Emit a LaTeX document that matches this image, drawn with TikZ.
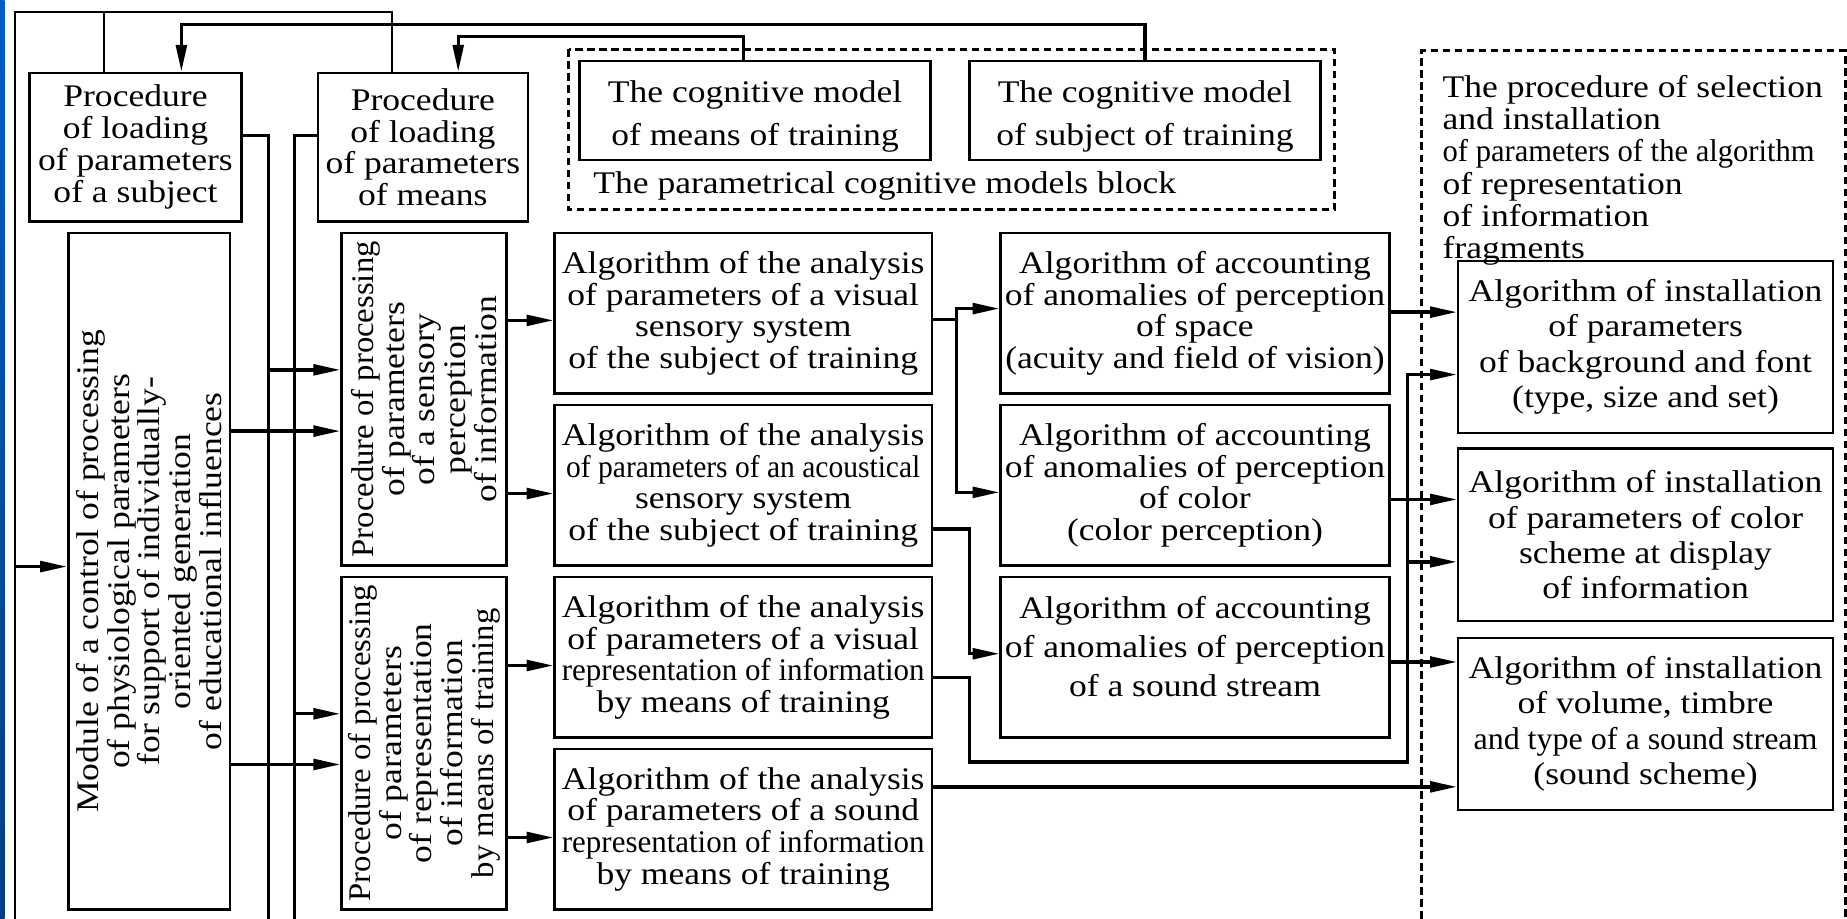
\documentclass[tikz,border=0pt]{standalone}
\usepackage{fontspec}
\setmainfont{Liberation Serif}[FakeStretch=1.13]
\usetikzlibrary{shapes.geometric, arrows, positioning, arrows.meta, calc}
\definecolor{slideblue}{rgb}{0.0, 0.36, 0.78}
\definecolor{slidedark}{rgb}{0.0, 0.24, 0.52}
\newcommand{\narrowline}[2]{\scalebox{#1}[1]{#2}}

\begin{document}
\begin{tikzpicture}[x=0.01cm, y=-0.01cm]
        \tikzstyle{box} = [rectangle, draw=black, line width=0.6pt, align=center, inner sep=1pt, font=\fontsize{7.6}{7.7}\selectfont]
        \tikzstyle{vbox} = [box, rotate=90, font=\fontsize{7.6}{7.4}\selectfont]
        \tikzstyle{cogbox} = [box, font=\fontsize{7.6}{10.2}\selectfont]
        \tikzstyle{setbox} = [box, font=\fontsize{7.6}{8.5}\selectfont]
        \tikzstyle{line} = [draw=black, line width=0.55pt]
        \tikzstyle{arr} = [draw=black, line width=0.8pt, -{Triangle[length=6.5pt, width=2.6pt]}]
        \tikzstyle{dashbox} = [draw=black, line width=0.7pt, dash pattern=on 1.8pt off 1.1pt]

        \useasboundingbox (0,0) rectangle (1568,780);
        \fill[white] (0,0) rectangle (1568,780);
        \shade[top color=slideblue, bottom color=slidedark] (0,0) rectangle (4,780);

        % loading procedures and cognitive models
        \node[box, minimum width=1.8cm, minimum height=1.26cm] (subj) at (115,125) {Procedure\\of loading\\of parameters\\of a subject};
        \node[box, minimum width=1.78cm, minimum height=1.26cm] (means) at (359,125) {Procedure\\of loading\\of parameters\\of means};
        \node[cogbox, minimum width=2.98cm, minimum height=0.84cm] (cogm) at (641,94) {\rule{0pt}{8pt}The cognitive model\\of means of training};
        \node[cogbox, minimum width=2.98cm, minimum height=0.84cm] (cogs) at (972,94) {\rule{0pt}{8pt}The cognitive model\\of subject of training};
        \draw[dashbox] (483,42) rectangle (1133,178);
        \node[anchor=base west, inner sep=0pt, font=\fontsize{7.6}{7.7}\selectfont] (pcap) at (503,164) {The parametrical cognitive models block};

        % rotated procedures (left side = .north, right side = .south)
        \node[vbox, minimum width=5.74cm, minimum height=1.37cm] (module) at (126.5,485) {Module of a control of processing\\of physiological parameters\\for support of individually-\\oriented generation\\of educational influences};
        \node[vbox, minimum width=2.82cm, minimum height=1.4cm] (sens) at (360,339) {\narrowline{0.92}{Procedure of processing}\\of parameters\\of a sensory\\perception\\of information};
        \node[vbox, minimum width=2.82cm, minimum height=1.4cm] (repr) at (360,631) {\narrowline{0.92}{Procedure of processing}\\of parameters\\of representation\\of information\\\narrowline{0.92}{by means of training}};

        % analysis algorithms
        \node[box, minimum width=3.2cm, minimum height=1.36cm] (a1) at (631,266) {Algorithm of the analysis\\of parameters of a visual\\sensory system\\of the subject of training};
        \node[box, minimum width=3.2cm, minimum height=1.36cm] (a2) at (631,412) {Algorithm of the analysis\\\narrowline{0.83}{of parameters of an acoustical}\\sensory system\\of the subject of training};
        \node[box, minimum width=3.2cm, minimum height=1.36cm] (a3) at (631,558) {Algorithm of the analysis\\of parameters of a visual\\\narrowline{0.87}{representation of information}\\by means of training};
        \node[box, minimum width=3.2cm, minimum height=1.36cm] (a4) at (631,704) {Algorithm of the analysis\\of parameters of a sound\\\narrowline{0.87}{representation of information}\\by means of training};

        % accounting algorithms
        \node[box, minimum width=3.19cm, minimum height=1.36cm] (b1) at (1014.5,266) {Algorithm of accounting\\of anomalies of perception\\of space\\(acuity and field of vision)};
        \node[box, minimum width=3.19cm, minimum height=1.36cm] (b2) at (1014.5,412) {Algorithm of accounting\\of anomalies of perception\\of color\\(color perception)};
        \node[box, minimum width=3.19cm, minimum height=1.36cm, font=\fontsize{7.6}{9.4}\selectfont] (b3) at (1014.5,558) {Algorithm of accounting\\of anomalies of perception\\of a sound stream\\[-4.2pt]};

        % selection and installation
        \draw[dashbox] (1207,780) |- (1566.5,43) -- (1566.5,780);
        \node[anchor=north west, align=left, inner sep=0pt, font=\fontsize{7.6}{7.8}\selectfont] (seltitle) at (1224,63) {The procedure of selection\\and installation\\\narrowline{0.86}{of parameters of the algorithm}\\of representation\\of information\\fragments};
        \node[setbox, minimum width=3.18cm, minimum height=1.46cm] (c1) at (1397,294.5) {Algorithm of installation\\of parameters\\of background and font\\(type, size and set)};
        \node[setbox, minimum width=3.18cm, minimum height=1.46cm] (c2) at (1397,454) {Algorithm of installation\\of parameters of color\\scheme at display\\of information};
        \node[setbox, minimum width=3.18cm, minimum height=1.46cm] (c3) at (1397,614.5) {Algorithm of installation\\of volume, timbre\\\narrowline{0.9}{and type of a sound stream}\\(sound scheme)};

        % feedback from the top
        \draw[line] (subj.north -| 88,0) -- (88,10);
        \draw[line] (means.north -| 333,0) |- (13,10) -- (13,780);
        \draw[arr] (13,481) -- (module.north |- 0,481);
        \draw[arr] (cogs.north) |- (154,21) -- (subj.north -| 154,0);
        \draw[arr] (cogm.north -| 631,0) |- (389,31) -- (means.north -| 389,0);

        % buses of the loading procedures
        \draw[line] (subj.east |- 0,115) -| (228,780);
        \draw[line] (means.west |- 0,115) -| (250,780);
        \coordinate (sbus) at (228,314);
        \coordinate (mbus) at (250,606);
        \draw[arr] (sbus) -- (sens.north |- sbus);
        \draw[arr] (mbus) -- (repr.north |- mbus);
        \foreach \t/\y in {sens/366, repr/649}
            \draw[arr] (module.south |- 0,\y) -- (\t.north |- 0,\y);

        \foreach \s/\t/\y in {sens/a1/272, sens/a2/419, repr/a3/565, repr/a4/711}
            \draw[arr] (\s.south |- 0,\y) -- (\t.west |- 0,\y);

        \draw[arr] (a1.east |- 0,271) -| (812,262) -- (b1.west |- 0,262);
        \draw[arr] (812,271) |- (b2.west |- 0,418);
        \draw[arr] (a2.east |- 0,449) -| (823,555) -- (b3.west |- 0,555);
        \draw[arr] (a3.east |- 0,575) -| (823,647) -| (1195,318) -- (c1.west |- 0,318);
        \draw[arr] (1195,477) -- (c2.west |- 0,477);
        \draw[arr] (a4.east |- 0,668) -- (c3.west |- 0,668);

        \foreach \s/\t/\y in {b1/c1/265, b2/c2/424, b3/c3/562}
            \draw[arr] (\s.east |- 0,\y) -- (\t.west |- 0,\y);
    \end{tikzpicture}
\end{document}
